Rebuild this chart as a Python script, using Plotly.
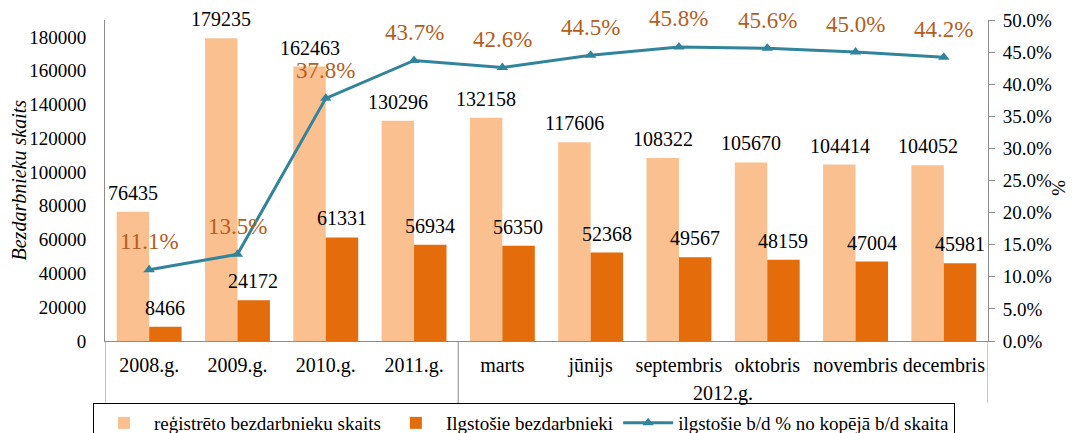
import plotly.graph_objects as go

categories = ["2008.g.", "2009.g.", "2010.g.", "2011.g.", "marts", "jūnijs",
              "septembris", "oktobris", "novembris", "decembris"]
group_label = "2012.g."
registered = [76435, 179235, 162463, 130296, 132158, 117606, 108322, 105670, 104414, 104052]
longterm = [8466, 24172, 61331, 56934, 56350, 52368, 49567, 48159, 47004, 45981]
share_pct = [11.1, 13.5, 37.8, 43.7, 42.6, 44.5, 45.8, 45.6, 45.0, 44.2]
share = [v / 100 for v in share_pct]

name_reg = "reģistrēto bezdarbnieku skaits"
name_long = "Ilgstošie bezdarbnieki"
name_share = "ilgstošie b/d % no kopējā b/d skaita"

FONT = "Liberation Serif, Times New Roman, serif"
C_LIGHT = "#FAC090"
C_DARK = "#E46C0A"
C_LINE = "#31849B"
C_PCT = "#B35E22"
AX = "#8C8C8C"

fig = go.Figure()
fig.add_trace(go.Bar(x=categories, y=registered, name=name_reg,
                     marker=dict(color=C_LIGHT, line=dict(width=0)), yaxis="y"))
fig.add_trace(go.Bar(x=categories, y=longterm, name=name_long,
                     marker=dict(color=C_DARK, line=dict(width=0)), yaxis="y"))
fig.add_trace(go.Scatter(x=categories, y=share, name=name_share, yaxis="y2",
                         mode="lines+markers",
                         line=dict(color=C_LINE, width=3),
                         marker=dict(symbol="triangle-up", size=10, color=C_LINE)))

annotations = []
for c, v in zip(categories, registered):
    annotations.append(dict(x=c, y=v, xref="x", yref="y", text=str(v), showarrow=False,
                            xshift=-16, yshift=19, yanchor="middle",
                            font=dict(family=FONT, size=20, color="black")))
for c, v in zip(categories, longterm):
    annotations.append(dict(x=c, y=v, xref="x", yref="y", text=str(v), showarrow=False,
                            xshift=16, yshift=19, yanchor="middle",
                            font=dict(family=FONT, size=20, color="black")))
for c, v, p in zip(categories, share, share_pct):
    annotations.append(dict(x=c, y=v, xref="x", yref="y2", text=f"{p:.1f}%", showarrow=False,
                            yshift=28, yanchor="middle",
                            font=dict(family=FONT, size=23, color=C_PCT)))

# plot area: left 105, right 988, top 20, bottom 341 (px)
H = 341 - 20
div_bottom = (341 - 403) / H
annotations.append(dict(x=6.5, y=(341 - 394) / H, xref="x", yref="paper", text=group_label,
                        showarrow=False, yanchor="middle",
                        font=dict(family=FONT, size=20, color="black")))
annotations.append(dict(x=(18 - 105) / 883, y=0.5, xref="paper", yref="paper",
                        text="<i>Bezdarbnieku skaits</i>", textangle=-90, showarrow=False,
                        xanchor="center", yanchor="middle",
                        font=dict(family=FONT, size=20, color="black")))
annotations.append(dict(x=(1059 - 105) / 883, y=(341 - 188) / H, xref="paper", yref="paper",
                        text="%", textangle=90, showarrow=False,
                        xanchor="center", yanchor="middle",
                        font=dict(family=FONT, size=19, color="black")))

shapes = []
for xv in [-0.5, 3.5, 9.5]:
    shapes.append(dict(type="line", xref="x", yref="paper", x0=xv, x1=xv, y0=0, y1=div_bottom,
                       line=dict(color=AX, width=1)))

fig.update_layout(
    width=1073, height=433,
    margin=dict(l=105, r=85, t=20, b=92, autoexpand=False),
    paper_bgcolor="white", plot_bgcolor="white",
    barmode="group", bargap=0.265, bargroupgap=0,
    font=dict(family=FONT, size=20, color="black"),
    showlegend=True,
    legend=dict(orientation="h", x=(93 - 105) / 883, xanchor="left",
                y=div_bottom, yanchor="top",
                bordercolor="black", borderwidth=1, bgcolor="white",
                font=dict(family=FONT, size=19, color="black"),
                itemwidth=50, tracegroupgap=0, traceorder="normal"),
    xaxis=dict(type="category", categoryorder="array", categoryarray=categories,
               showline=True, linecolor=AX, linewidth=1, ticks="", showgrid=False,
               tickfont=dict(family=FONT, size=20, color="black"),
               ticklabelstandoff=6, range=[-0.5, 9.5], fixedrange=True),
    yaxis=dict(range=[0, 190000], dtick=20000, tick0=0, showgrid=False, zeroline=False,
               showline=True, linecolor=AX, linewidth=1, ticks="",
               tickformat="d", ticklabelstandoff=14,
               tickfont=dict(family=FONT, size=19, color="black")),
    yaxis2=dict(range=[0, 0.5], dtick=0.05, tick0=0, overlaying="y", side="right",
                showgrid=False, zeroline=False, showline=True, linecolor=AX, linewidth=1,
                ticks="outside", ticklen=6, tickcolor=AX, tickformat=".1%",
                ticklabelstandoff=4,
                tickfont=dict(family=FONT, size=19, color="black")),
    annotations=annotations,
    shapes=shapes,
)

fig.write_html("out.html", config={"displayModeBar": False},
               post_script="document.body.style.margin='0';document.body.style.overflow='hidden';")
